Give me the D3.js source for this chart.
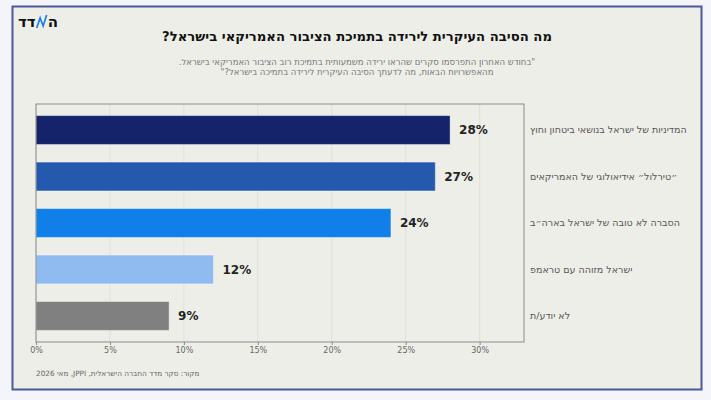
<!DOCTYPE html>
<html>
<head>
<meta charset="utf-8">
<script src="https://cdn.jsdelivr.net/npm/d3@7"></script>
<style>
  html, body { margin: 0; padding: 0; background: #f3f5fa; }
  svg { display: block; font-family: "DejaVu Sans", sans-serif; }
</style>
</head>
<body>
<div id="chart"></div>
<script>
// data
const categories = [
  'המדיניות של ישראל בנושאי ביטחון וחוץ',
  '״טירלול״ אידיאולוגי של האמריקאים',
  'הסברה לא טובה של ישראל בארה״ב',
  'ישראל מזוהה עם טראמפ',
  'לא יודע/ת'
];
const values = [28, 27, 24, 12, 9];
const barColors = ['#13246b', '#2459ad', '#1080e8', '#90bbf0', '#808080'];
const xTicks = [0, 5, 10, 15, 20, 25, 30];

const title = 'מה הסיבה העיקרית לירידה בתמיכת הציבור האמריקאי בישראל?';
const subtitleLines = [
  '"בחודש האחרון התפרסמו סקרים שהראו ירידה משמעותית בתמיכת רוב הציבור האמריקאי בישראל.',
  'מהאפשרויות הבאות, מה לדעתך הסיבה העיקרית לירידה בתמיכה בישראל?"'
];
const source = 'מקור: סקר מדד החברה הישראלית, JPPI, מאי 2026';

const W = 711, H = 400;
const plot = { left: 36, right: 524, top: 104, bottom: 342 };

const svg = d3.select('#chart')
  .append('svg')
  .attr('width', W)
  .attr('height', H);

// card
svg.append('rect')
  .attr('x', 12.5).attr('y', 6.5)
  .attr('width', 689).attr('height', 383)
  .attr('fill', '#eeeee9')
  .attr('stroke', '#4b5b99')
  .attr('stroke-width', 2);

// logo: "דד" + blue zigzag + "ה", laid out left to right
const logo = svg.append('g').attr('transform', 'translate(18,27)');
const dd = logo.append('text')
  .attr('x', 0).attr('y', 0)
  .style('font-size', '15px').style('font-weight', 'bold')
  .attr('fill', '#111')
  .text('דד');
const ddW = dd.node().getComputedTextLength();
logo.append('polyline')
  .attr('points', [[ddW + 1, 1], [ddW + 4.5, -9], [ddW + 7.5, -1], [ddW + 11, -12]].map(p => p.join(',')).join(' '))
  .attr('fill', 'none')
  .attr('stroke', '#1a7fe6')
  .attr('stroke-width', 1.7);
logo.append('text')
  .attr('x', ddW + 12).attr('y', 0)
  .style('font-size', '15px').style('font-weight', 'bold')
  .attr('fill', '#111')
  .text('ה');

// titles
svg.append('text')
  .attr('x', 357).attr('y', 41)
  .attr('direction', 'rtl')
  .attr('text-anchor', 'middle')
  .style('font-size', '13.2px').style('font-weight', 'bold')
  .attr('fill', '#111')
  .text(title);

svg.selectAll('.sub')
  .data(subtitleLines)
  .enter()
  .append('text')
  .attr('class', 'sub')
  .attr('x', 357)
  .attr('y', (d, i) => 65 + i * 10)
  .attr('direction', 'rtl')
  .attr('text-anchor', 'middle')
  .style('font-size', '8.5px')
  .attr('fill', '#777')
  .text(d => d);

// scales
const x = d3.scaleLinear().domain([0, 33]).range([plot.left, plot.right]);
const y = d3.scaleBand().domain(categories)
  .range([plot.top, plot.bottom])
  .paddingInner(0.38).paddingOuter(0.25);

// grid
svg.append('g')
  .selectAll('line')
  .data(xTicks)
  .enter()
  .append('line')
  .attr('x1', d => x(d)).attr('x2', d => x(d))
  .attr('y1', plot.top).attr('y2', plot.bottom)
  .attr('stroke', '#dcdcd6')
  .attr('stroke-width', 0.8);

// bars
svg.append('g')
  .selectAll('rect')
  .data(values)
  .enter()
  .append('rect')
  .attr('x', x(0))
  .attr('y', (d, i) => y(categories[i]))
  .attr('width', d => x(d) - x(0))
  .attr('height', y.bandwidth())
  .attr('fill', (d, i) => barColors[i])
  .attr('stroke', 'rgba(255,255,255,0.35)')
  .attr('stroke-width', 1);

// value labels
svg.append('g')
  .selectAll('text')
  .data(values)
  .enter()
  .append('text')
  .attr('x', d => x(d) + 9)
  .attr('y', (d, i) => y(categories[i]) + y.bandwidth() / 2)
  .attr('dy', '0.35em')
  .style('font-size', '12px').style('font-weight', 'bold')
  .attr('fill', '#222')
  .text(d => d + '%');

// plot frame
svg.append('rect')
  .attr('x', plot.left).attr('y', plot.top)
  .attr('width', plot.right - plot.left)
  .attr('height', plot.bottom - plot.top)
  .attr('fill', 'none')
  .attr('stroke', '#8a8a8a')
  .attr('stroke-width', 1);

// x axis
const xAxis = svg.append('g')
  .attr('transform', `translate(0,${plot.bottom})`)
  .call(d3.axisBottom(x).tickValues(xTicks).tickFormat(d => d + '%').tickSize(3).tickPadding(2));
xAxis.select('.domain').remove();
xAxis.selectAll('line').attr('stroke', '#8a8a8a');
xAxis.selectAll('text')
  .style('font-size', '8px')
  .style('font-family', '"DejaVu Sans", sans-serif')
  .attr('fill', '#666');

// category labels
svg.append('g')
  .selectAll('text')
  .data(categories)
  .enter()
  .append('text')
  .attr('x', 530)
  .attr('y', d => y(d) + y.bandwidth() / 2)
  .attr('dy', '0.35em')
  .attr('direction', 'rtl')
  .attr('text-anchor', 'end')
  .style('font-size', '9.5px')
  .attr('fill', '#555')
  .text(d => d);

// source
svg.append('text')
  .attr('x', 36).attr('y', 376)
  .attr('direction', 'rtl')
  .attr('text-anchor', 'end')
  .style('font-size', '7.3px')
  .attr('fill', '#666')
  .text(source);
</script>
</body>
</html>
